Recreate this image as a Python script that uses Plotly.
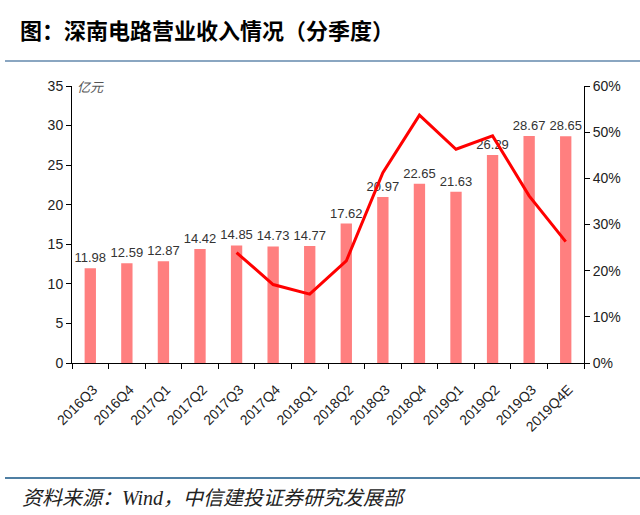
import plotly.graph_objects as go

quarters = ["2016Q3", "2016Q4", "2017Q1", "2017Q2", "2017Q3", "2017Q4", "2018Q1",
            "2018Q2", "2018Q3", "2018Q4", "2019Q1", "2019Q2", "2019Q3", "2019Q4E"]
revenue = [11.98, 12.59, 12.87, 14.42, 14.85, 14.73, 14.77,
           17.62, 20.97, 22.65, 21.63, 26.29, 28.67, 28.65]
growth_quarters = ["2017Q3", "2017Q4", "2018Q1", "2018Q2", "2018Q3",
                   "2018Q4", "2019Q1", "2019Q2", "2019Q3", "2019Q4E"]
growth_pct = [23.9, 17.0, 14.9, 22.1, 41.2, 53.7, 46.3, 49.2, 36.2, 26.3]

W, H = 640, 515
L, R, T, B = 72, 56, 86, 152
pw, ph = W - L - R, H - T - B


def px_x(x):
    return (x - L) / pw


def px_y(y):
    return (H - B - y) / ph


fig = go.Figure()
fig.add_trace(go.Bar(
    x=quarters, y=revenue,
    marker=dict(color="#FF7F7F", line=dict(width=0)),
    text=[f"{v:.2f}" for v in revenue], textposition="outside",
    constraintext="none",
    textfont=dict(family="Liberation Sans, Arial", size=13, color="#333333"),
    cliponaxis=False, width=0.31, yaxis="y",
))
fig.add_trace(go.Scatter(
    x=growth_quarters, y=growth_pct, mode="lines",
    line=dict(color="#FF0000", width=3), yaxis="y2",
))

axis_font = dict(family="Liberation Sans, Arial", size=14, color="#222222")
fig.update_layout(
    width=W, height=H,
    margin=dict(l=L, r=R, t=T, b=B, autoexpand=False),
    paper_bgcolor="white", plot_bgcolor="white",
    showlegend=False,
    title=dict(text="<b>图：深南电路营业收入情况（分季度）</b>",
               font=dict(family="Noto Sans CJK SC", size=22, color="#000000"),
               xref="container", yref="container", x=20 / W, xanchor="left",
               y=1 - 31 / H, yanchor="middle"),
    xaxis=dict(
        type="category", tickangle=-45,
        tickfont=dict(family="Liberation Sans, Arial", size=14, color="#222222"),
        showline=True, linecolor="#000000", linewidth=1,
        ticks="outside", ticklen=5, tickcolor="#000000", tickson="boundaries",
        ticklabelstandoff=12, ticklabelshift=3,
        showgrid=False, zeroline=False, range=[-0.5, 13.5],
    ),
    yaxis=dict(
        range=[0, 35], dtick=5, tickfont=axis_font,
        showline=True, linecolor="#000000", linewidth=1,
        ticks="outside", ticklen=5, tickcolor="#000000",
        showgrid=False, zeroline=False,
    ),
    yaxis2=dict(
        range=[0, 60], dtick=10, ticksuffix="%", tickfont=axis_font,
        overlaying="y", side="right",
        showline=True, linecolor="#000000", linewidth=1,
        ticks="outside", ticklen=5, tickcolor="#000000",
        showgrid=False, zeroline=False,
    ),
    annotations=[
        dict(text="<i>亿元</i>", xref="paper", yref="paper", x=px_x(75), y=px_y(86),
             xanchor="left", yanchor="middle", showarrow=False,
             font=dict(family="Noto Sans CJK SC", size=13, color="#555555")),
        dict(text="<i>资料来源：Wind，中信建投证券研究发展部</i>", xref="paper", yref="paper",
             x=px_x(20), y=px_y(498), xanchor="left", yanchor="middle", showarrow=False,
             font=dict(family="Liberation Serif, Noto Sans CJK SC", size=20, color="#222222")),
    ],
    shapes=[
        dict(type="line", xref="paper", yref="paper", x0=px_x(5), x1=px_x(640),
             y0=px_y(61), y1=px_y(61), line=dict(color="#8AA6C1", width=2)),
        dict(type="line", xref="paper", yref="paper", x0=px_x(5), x1=px_x(640),
             y0=px_y(478), y1=px_y(478), line=dict(color="#4F7FA3", width=2)),
    ],
)

fig.write_html("out.html", config={"displayModeBar": False},
               post_script="document.body.style.margin='0';")
